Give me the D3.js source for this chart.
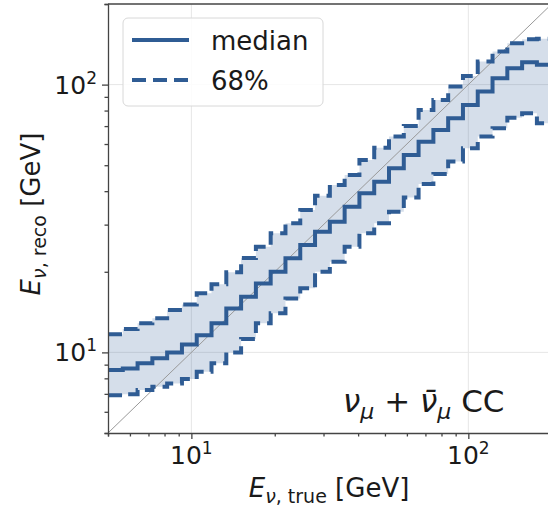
<!DOCTYPE html>
<html lang="en">
<head>
<meta charset="utf-8">
<title>Energy resolution</title>
<style>
  body { margin: 0; background: #fff; }
  text { font-family: "DejaVu Sans", sans-serif; fill: #1a1a1a; }
  .it { font-style: italic; }
</style>
</head>
<body>
<svg width="548" height="506"></svg>
<script src="https://d3js.org/d3.v7.min.js"></script>
<script>
// bin edges in true energy [GeV]
var binEdges = [5, 5.654, 6.394, 7.230, 8.176, 9.246, 10.456, 11.823, 13.370, 15.119,
  17.098, 19.334, 21.864, 24.725, 27.960, 31.623, 35.760, 40.439, 45.730, 51.712,
  58.480, 66.130, 74.784, 84.568, 95.633, 108.15, 122.30, 138.30, 156.39, 176.86, 200];

// reconstructed energy per bin [GeV]
var median = [8.59, 8.71, 9.10, 9.50, 10.0, 10.71, 11.60, 12.84, 14.60, 16.13,
  18.10, 20.01, 22.45, 25.18, 28.22, 30.76, 35.01, 39.29, 43.40, 48.71,
  54.62, 61.24, 67.73, 74.88, 84.00, 94.15, 105.7, 115.2, 121.2, 118.5];
var upper68 = [11.70, 12.22, 12.84, 13.40, 14.39, 15.11, 16.62, 17.95, 19.91, 22.51,
  24.80, 27.84, 30.34, 34.03, 38.48, 42.19, 45.99, 52.32, 58.16, 63.94,
  70.11, 80.45, 87.67, 98.29, 107.8, 121.9, 132.8, 142.8, 147.8, 148.2];
var lower68 = [6.92, 6.97, 7.23, 7.44, 7.66, 7.95, 8.46, 9.10, 10.0, 11.21,
  12.84, 13.99, 15.91, 17.35, 20.01, 21.81, 24.80, 27.84, 30.34, 33.54,
  37.89, 42.55, 46.38, 51.57, 57.86, 63.94, 68.74, 75.27, 78.17, 71.74];

var xTicks = [10, 100];
var yTicks = [10, 100];

var col = "#2f5c94";
var svg = d3.select("svg");
var L = 108, R = 551.7, T = 4, B = 433;

var x = d3.scaleLog().domain([5, 200]).range([L, R]);
var y = d3.scaleLog().domain([5, 200]).range([B, T]);

svg.append("clipPath").attr("id", "clip")
  .append("rect").attr("x", L).attr("y", T).attr("width", R - L).attr("height", B - T);

// grid
var grid = svg.append("g");
grid.selectAll(".gx").data(xTicks).enter().append("line")
  .attr("x1", d => x(d)).attr("x2", d => x(d)).attr("y1", T).attr("y2", B)
  .attr("stroke", "#e6e6e6").attr("stroke-width", 1);
grid.selectAll(".gy").data(yTicks).enter().append("line")
  .attr("y1", d => y(d)).attr("y2", d => y(d)).attr("x1", L).attr("x2", R)
  .attr("stroke", "#e6e6e6").attr("stroke-width", 1);

function pts(vals) {
  var p = vals.map(function(v, i) { return [binEdges[i], v]; });
  p.push([binEdges[binEdges.length - 1], vals[vals.length - 1]]);
  return p;
}

var plot = svg.append("g").attr("clip-path", "url(#clip)");

var bandPts = binEdges.map(function(e, i) {
  var j = Math.min(i, median.length - 1);
  return [e, lower68[j], upper68[j]];
});
plot.append("path")
  .attr("d", d3.area().curve(d3.curveStepAfter)
    .x(d => x(d[0])).y0(d => y(d[1])).y1(d => y(d[2]))(bandPts))
  .attr("fill", col).attr("fill-opacity", 0.2);

plot.append("line")
  .attr("x1", x(5)).attr("y1", y(5)).attr("x2", x(200)).attr("y2", y(200))
  .attr("stroke", "#999").attr("stroke-width", 1);

var line = d3.line().curve(d3.curveStepAfter).x(d => x(d[0])).y(d => y(d[1]));

plot.append("path").attr("d", line(pts(median)))
  .attr("fill", "none").attr("stroke", col).attr("stroke-width", 4);
[upper68, lower68].forEach(function(s) {
  plot.append("path").attr("d", line(pts(s)))
    .attr("fill", "none").attr("stroke", col).attr("stroke-width", 4)
    .attr("stroke-dasharray", "14,7");
});

// axes
var xAxis = d3.axisBottom(x).tickValues(d3.range(5, 10).concat(d3.range(10, 100, 10), d3.range(100, 201, 100)))
  .tickSize(3.5).tickFormat("");
var gx = svg.append("g").attr("transform", "translate(0," + B + ")").call(xAxis);
gx.selectAll(".tick line").filter(d => xTicks.indexOf(d) >= 0).attr("y2", 6);
gx.selectAll("line,path").attr("stroke", "#444").attr("stroke-width", 1.3);

var yAxis = d3.axisLeft(y).tickValues(d3.range(5, 10).concat(d3.range(10, 100, 10), d3.range(100, 201, 100)))
  .tickSize(3.5).tickFormat("");
var gy = svg.append("g").attr("transform", "translate(" + L + ",0)").call(yAxis);
gy.selectAll(".tick line").filter(d => yTicks.indexOf(d) >= 0).attr("x2", -6);
gy.selectAll("line,path").attr("stroke", "#444").attr("stroke-width", 1.3);

svg.append("line").attr("x1", L).attr("x2", R).attr("y1", T).attr("y2", T)
  .attr("stroke", "#444").attr("stroke-width", 1.3);

// tick labels
function powLabel(g, exp) {
  g.append("tspan").text("10");
  g.append("tspan").attr("dy", -10).attr("font-size", 17).text(exp);
}
xTicks.forEach(function(t, i) {
  var tx = svg.append("text").attr("x", x(t)).attr("y", 464)
    .attr("text-anchor", "middle").attr("font-size", 25);
  powLabel(tx, i + 1);
});
yTicks.forEach(function(t, i) {
  var ty = svg.append("text").attr("x", 97).attr("y", y(t) + 9)
    .attr("text-anchor", "end").attr("font-size", 25);
  powLabel(ty, i + 1);
});

// axis titles
var xl = svg.append("text").attr("x", 329).attr("y", 497).attr("text-anchor", "middle").attr("font-size", 26);
xl.append("tspan").attr("class", "it").text("E");
xl.append("tspan").attr("dy", 6).attr("font-size", 19).attr("class", "it").text("\u03BD");
xl.append("tspan").attr("font-size", 19).text(", true");
xl.append("tspan").attr("dy", -6).text(" [GeV]");

var yl = svg.append("text").attr("transform", "translate(40,214) rotate(-90)")
  .attr("text-anchor", "middle").attr("font-size", 26);
yl.append("tspan").attr("class", "it").text("E");
yl.append("tspan").attr("dy", 6).attr("font-size", 19).attr("class", "it").text("\u03BD");
yl.append("tspan").attr("font-size", 19).text(", reco");
yl.append("tspan").attr("dy", -6).text(" [GeV]");

// legend
var lg = svg.append("g");
lg.append("rect").attr("x", 123).attr("y", 18).attr("width", 200).attr("height", 88).attr("rx", 5)
  .attr("fill", "#fff").attr("fill-opacity", 0.85).attr("stroke", "#d8d8d8");
lg.append("line").attr("x1", 132).attr("x2", 189).attr("y1", 40).attr("y2", 40)
  .attr("stroke", col).attr("stroke-width", 4);
lg.append("line").attr("x1", 132).attr("x2", 189).attr("y1", 80).attr("y2", 80)
  .attr("stroke", col).attr("stroke-width", 4).attr("stroke-dasharray", "14,7");
lg.append("text").attr("x", 211).attr("y", 50).attr("font-size", 26).text("median");
lg.append("text").attr("x", 211).attr("y", 90).attr("font-size", 26).text("68%");

// annotation
var an = svg.append("text").attr("x", 343).attr("y", 412).attr("font-size", 31);
an.append("tspan").attr("class", "it").text("\u03BD");
an.append("tspan").attr("class", "it").attr("dy", 7).attr("font-size", 22).text("\u03BC");
an.append("tspan").attr("dy", -7).text(" + ");
an.append("tspan").attr("class", "it").text("\u03BD\u0304");
an.append("tspan").attr("class", "it").attr("dy", 7).attr("font-size", 22).text("\u03BC");
an.append("tspan").attr("dy", -7).text(" CC");
</script>
</body>
</html>
